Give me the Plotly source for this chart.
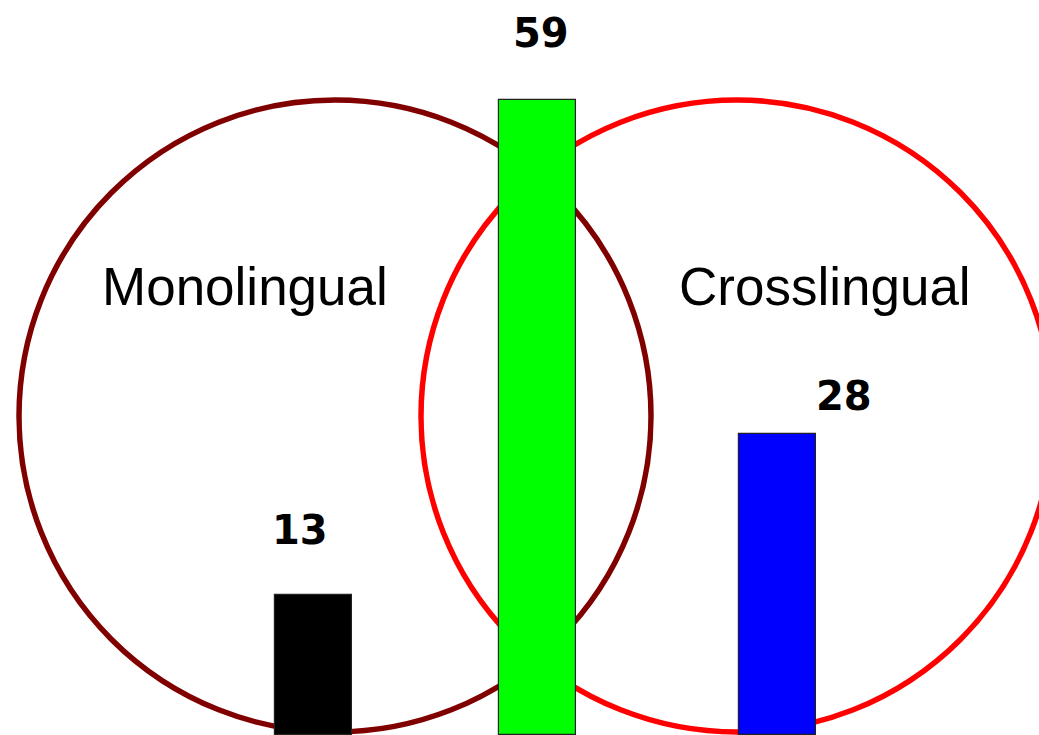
import plotly.graph_objects as go

# ---- data ----
categories = ["Monolingual only", "Both", "Crosslingual only"]
values = [13, 59, 28]
bar_colors = ["#000000", "#00ff00", "#0000ff"]
set_labels = ["Monolingual", "Crosslingual"]

# ---- layout constants (pixels of the 1039x735 canvas) ----
W, H = 1039, 735
bar_x = [313, 537.5, 777.5]
bar_w = 77
px_per_unit = (735 - 100) / 59.0
y_top = H / px_per_unit

fig = go.Figure()
fig.add_trace(go.Bar(
    x=bar_x, y=values, width=bar_w,
    marker=dict(color=bar_colors, line=dict(color="#222222", width=1.2)),
    hoverinfo="skip", showlegend=False,
))

def circ(cx, cy, r, color):
    return dict(type="circle", xref="paper", yref="paper",
                x0=(cx - r) / W, x1=(cx + r) / W,
                y0=1 - (cy + r) / H, y1=1 - (cy - r) / H,
                line=dict(color=color, width=5.5), layer="below")

fig.update_layout(shapes=[circ(335, 416, 316, "#800000"),
                          circ(737, 416, 316, "#ff0000")])

ann = []
label_pos = [(300, 530), (541, 33), (844, 396)]
for v, (lx, ly) in zip(values, label_pos):
    ann.append(dict(x=lx, y=1 - ly / H, xref="x", yref="paper", text=f"<b>{v}</b>",
                    showarrow=False, xanchor="center", yanchor="middle",
                    font=dict(family="DejaVu Sans", size=40, color="black")))
for name, (lx, ly) in zip(set_labels, [(245, 287), (825, 287)]):
    ann.append(dict(x=lx, y=1 - ly / H, xref="x", yref="paper", text=name,
                    showarrow=False, xanchor="center", yanchor="middle",
                    font=dict(family="Liberation Sans", size=53, color="black")))

fig.update_layout(
    annotations=ann,
    width=W, height=H,
    margin=dict(l=0, r=0, t=0, b=0),
    paper_bgcolor="white", plot_bgcolor="white",
    xaxis=dict(range=[0, W], visible=False, fixedrange=True),
    yaxis=dict(range=[0, y_top], visible=False, fixedrange=True),
    bargap=0,
)

fig.write_html("out.html", config={"displayModeBar": False},
               post_script="document.body.style.margin='0';document.body.style.overflow='hidden';")
